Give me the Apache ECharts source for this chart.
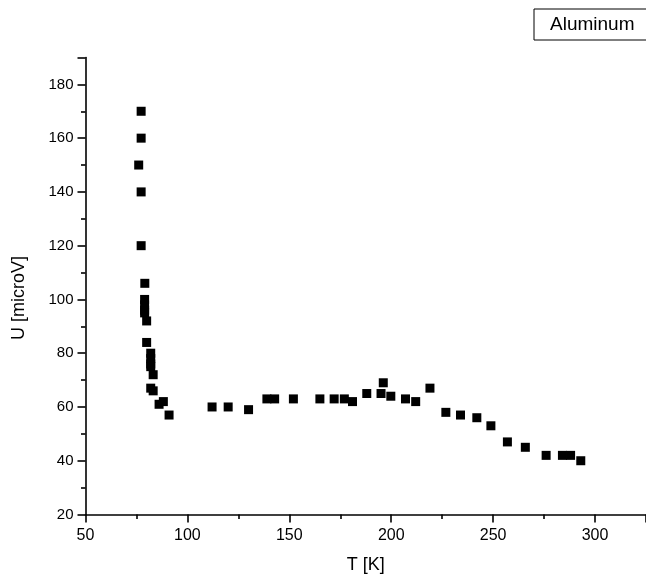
<!DOCTYPE html>
<html>
<head>
<meta charset="utf-8">
<script src="https://cdn.jsdelivr.net/npm/echarts@6/dist/echarts.min.js"></script>
<style>html,body{margin:0;padding:0;background:#fff}#c{width:646px;height:588px}</style>
</head>
<body>
<div id="c"></div>
<script>
var seriesName = 'Aluminum';
var tempK = [77.3, 77.3, 76.1, 77.3, 77.3, 79.1, 79, 79, 79, 79, 80, 80, 82, 82, 82, 82, 83.2, 82, 83.2, 86.1, 88.2, 91,
  112.1, 120, 130, 139, 142.8, 152, 165, 172, 177, 181, 188, 195, 196.1, 199.8, 207, 212, 219, 226.8, 234, 242, 248.9, 257, 265.8, 276, 284, 288, 293];
var voltage = [170, 160, 150, 140, 120, 106, 100, 98, 96, 95, 92, 84, 80, 78, 76, 75, 72, 67, 66, 61, 62, 57,
  60, 60, 59, 63, 63, 63, 63, 63, 63, 62, 65, 65, 69, 64, 63, 62, 67, 58, 57, 56, 53, 47, 45, 42, 42, 42, 40];
var xTicks = [50, 100, 150, 200, 250, 300];
var yTicks = [20, 40, 60, 80, 100, 120, 140, 160, 180];

var pts = tempK.map(function (t, i) { return [t, voltage[i]]; });
var font = 'Liberation Sans, Arial, sans-serif';
var chart = echarts.init(document.getElementById('c'), null, {renderer: 'canvas'});
chart.setOption({
  animation: false,
  backgroundColor: '#fff',
  grid: {left: 85.5, right: 0, top: 57.5, bottom: 73.5},
  legend: {
    data: [seriesName],
    left: 534, top: 9,
    icon: 'none', itemWidth: 0, itemGap: 0,
    padding: [6, 30, 6, 11],
    borderColor: '#000', borderWidth: 1,
    textStyle: {fontFamily: font, fontSize: 19, color: '#000'}
  },
  xAxis: {
    type: 'value', min: 50, max: 325, interval: 50,
    name: 'T [K]', nameLocation: 'middle', nameGap: 42,
    nameTextStyle: {fontFamily: font, fontSize: 18, color: '#000'},
    axisLine: {lineStyle: {color: '#000', width: 1.6}},
    axisTick: {length: 8, lineStyle: {color: '#000', width: 1.6}},
    minorTick: {show: true, splitNumber: 2, length: 4.5, lineStyle: {color: '#000', width: 1.6}},
    axisLabel: {fontFamily: font, fontSize: 16, color: '#000', margin: 13, showMaxLabel: false,
      formatter: function (v) { return xTicks.indexOf(v) >= 0 ? String(v) : ''; }},
    splitLine: {show: false}
  },
  yAxis: {
    type: 'value', min: 20, max: 190, interval: 20,
    name: 'U [microV]', nameLocation: 'middle', nameGap: 57,
    nameTextStyle: {fontFamily: font, fontSize: 18, color: '#000', padding: [0, 24, 0, 0]},
    axisLine: {lineStyle: {color: '#000', width: 1.6}},
    axisTick: {length: 8, lineStyle: {color: '#000', width: 1.6}},
    minorTick: {show: true, splitNumber: 2, length: 4.5, lineStyle: {color: '#000', width: 1.6}},
    axisLabel: {fontFamily: font, fontSize: 15, color: '#000', margin: 12, showMaxLabel: false,
      formatter: function (v) { return yTicks.indexOf(v) >= 0 ? String(v) : ''; }},
    splitLine: {show: false}
  },
  series: [{
    name: seriesName,
    type: 'scatter',
    symbol: 'rect',
    symbolSize: 9,
    itemStyle: {color: '#000', opacity: 1},
    emphasis: {disabled: true},
    data: pts
  }]
});
</script>
</body>
</html>
